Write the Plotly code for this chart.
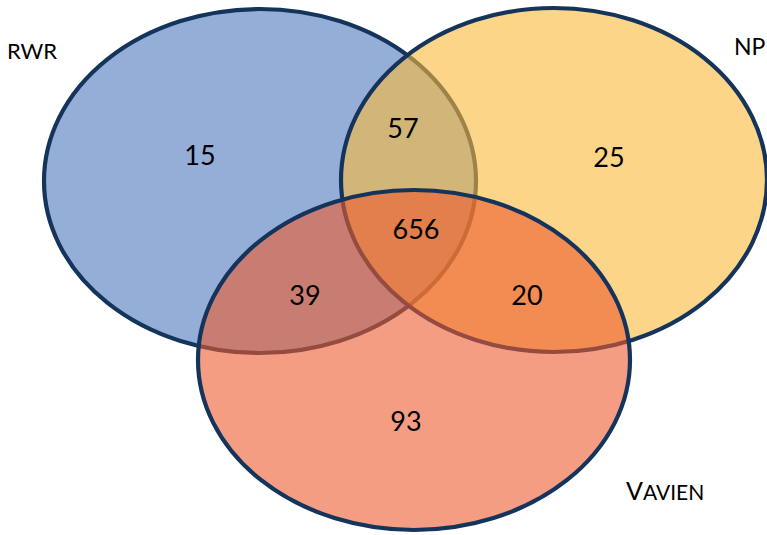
import plotly.graph_objects as go

# Sets and region counts of the three-way overlap
set_names = ["RWR", "NP", "VAVIEN"]
region_keys = ["RWR only", "RWR∩NP", "NP only", "all three", "RWR∩VAVIEN", "NP∩VAVIEN", "VAVIEN only"]
region_counts = [15, 57, 25, 656, 39, 20, 93]

# Drawing geometry (pixel-like units, y grows downward)
W, H = 767, 535
ellipses = {
    "RWR":    dict(cx=260, cy=181, rx=216, ry=172, rgb=(78, 120, 190)),
    "NP":     dict(cx=554, cy=180, rx=213, ry=172, rgb=(250, 185, 58)),
    "VAVIEN": dict(cx=414, cy=360, rx=216, ry=170, rgb=(237, 92, 47)),
}
fill_alpha = 0.6
outline = "#15345C"

region_pos = {
    "RWR only": (200, 158),
    "RWR∩NP": (403, 131),
    "NP only": (609, 160),
    "all three": (416, 232),
    "RWR∩VAVIEN": (305, 298),
    "NP∩VAVIEN": (527, 298),
    "VAVIEN only": (406, 424),
}

fig = go.Figure()

for name in set_names:
    e = ellipses[name]
    r, g, b = e["rgb"]
    fig.add_shape(
        type="circle", xref="x", yref="y", layer="below",
        x0=e["cx"] - e["rx"], x1=e["cx"] + e["rx"],
        y0=e["cy"] - e["ry"], y1=e["cy"] + e["ry"],
        fillcolor=f"rgba({r},{g},{b},{fill_alpha})",
        line=dict(color=outline, width=4.2),
    )

fig.add_trace(go.Scatter(
    x=[region_pos[k][0] for k in region_keys],
    y=[region_pos[k][1] for k in region_keys],
    mode="text",
    text=[str(v) for v in region_counts],
    textfont=dict(family="Lato, 'Open Sans', sans-serif", size=27, color="#000000"),
    hoverinfo="skip",
    showlegend=False,
))

label_pos = {"RWR": (32, 50), "NP": (750, 46), "VAVIEN": (665, 490)}
label_text = {
    "RWR": "RWR",
    "NP": "NP",
    "VAVIEN": "V<span style='font-size:21px'>AVIEN</span>",
}
label_size = {"RWR": 22, "NP": 23, "VAVIEN": 25}
for name in set_names:
    x, y = label_pos[name]
    fig.add_annotation(
        x=x, y=y, xref="x", yref="y", text=label_text[name], showarrow=False,
        font=dict(family="Lato, 'Open Sans', sans-serif", size=label_size[name],
                  color="#000000"),
        xanchor="center", yanchor="middle",
    )

fig.update_xaxes(range=[0, W], visible=False, showgrid=False, zeroline=False, fixedrange=True)
fig.update_yaxes(range=[H, 0], visible=False, showgrid=False, zeroline=False, fixedrange=True)
fig.update_layout(
    width=W, height=H,
    margin=dict(l=0, r=0, t=0, b=0),
    paper_bgcolor="white", plot_bgcolor="white",
    showlegend=False,
)

fig.write_html("out.html")
